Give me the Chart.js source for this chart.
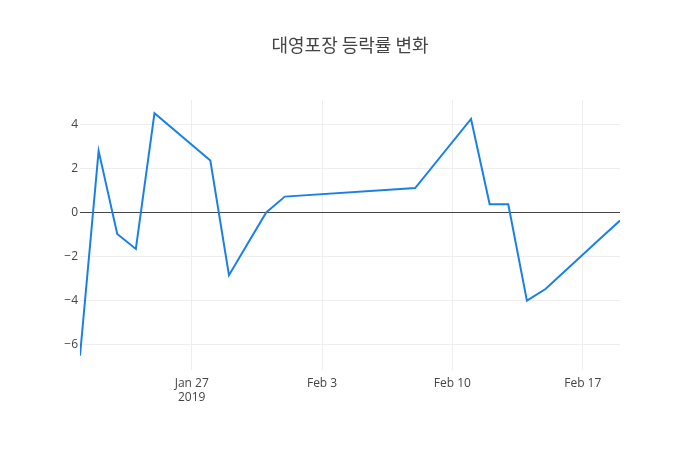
<!DOCTYPE html>
<html>
<head>
<meta charset="utf-8">
<script src="https://cdn.jsdelivr.net/npm/chart.js@4"></script>
<style>
  html, body { margin: 0; padding: 0; background: #fff; }
  #wrap { width: 700px; height: 450px; }
</style>
</head>
<body>
<div id="wrap"><canvas id="c" width="700" height="450"></canvas></div>
<script>
// ---- data ----
const titleText = "대영포장 등락률 변화";
const dates = [
  "2019-01-21","2019-01-22","2019-01-23","2019-01-24","2019-01-25",
  "2019-01-28","2019-01-29","2019-01-30","2019-01-31","2019-02-01",
  "2019-02-07","2019-02-08",
  "2019-02-11","2019-02-12","2019-02-13","2019-02-14","2019-02-15",
  "2019-02-18","2019-02-19"
];
const changes = [
  -6.52, 2.79, -0.99, -1.67, 4.50,
  2.35, -2.86, -1.43, -0.01, 0.71,
  1.04, 1.10,
  4.24, 0.36, 0.36, -4.02, -3.49,
  -1.15, -0.38
];
const xTickDates = ["2019-01-27","2019-02-03","2019-02-10","2019-02-17"];
const xTickLabels = [["Jan 27","2019"],"Feb 3","Feb 10","Feb 17"];
const yTicks = [-6,-4,-2,0,2,4];

// ---- helpers ----
const DAY = 86400000;
const origin = Date.UTC(2019,0,21);
const toDay = s => (Date.parse(s + "T00:00:00Z") - origin) / DAY;
const points = dates.map((d,i) => ({x: toDay(d), y: changes[i]}));
const xTickVals = xTickDates.map(toDay);

const fontFam = "'Open Sans', 'Noto Sans', sans-serif";

new Chart(document.getElementById('c'), {
  type: 'line',
  data: {
    datasets: [{
      data: points,
      borderColor: '#1a80e6',
      borderWidth: 2,
      pointRadius: 0,
      tension: 0,
      fill: false
    }]
  },
  options: {
    responsive: false,
    animation: false,
    layout: { padding: 0 },
    plugins: {
      legend: { display: false },
      tooltip: { enabled: false },
      title: {
        display: true,
        text: titleText,
        color: '#444',
        font: { family: "'Noto Sans CJK KR', sans-serif", size: 18, weight: 'normal', lineHeight: 1.2 },
        padding: { top: 34.4, bottom: 44 }
      }
    },
    scales: {
      x: {
        type: 'linear',
        min: toDay(dates[0]),
        max: toDay(dates[dates.length-1]),
        afterBuildTicks: s => { s.ticks = xTickVals.map(v => ({value: v})); },
        afterFit: s => { s.height = 80; },
        ticks: {
          color: '#444',
          font: { family: fontFam, size: 12 },
          padding: 6,
          maxRotation: 0,
          autoSkip: false,
          callback: (v) => { const i = xTickVals.indexOf(v); return i >= 0 ? xTickLabels[i] : ''; }
        },
        grid: { color: '#eee', lineWidth: 1, drawTicks: false },
        border: { display: false }
      },
      y: {
        min: -7.17,
        max: 5.1,
        afterBuildTicks: s => { s.ticks = yTicks.map(v => ({value: v})); },
        afterFit: s => { s.width = 80; },
        ticks: {
          color: '#444',
          font: { family: fontFam, size: 12 },
          padding: 2,
          callback: v => (v < 0 ? '\u2212' + Math.abs(v) : String(v))
        },
        grid: {
          color: ctx => (ctx.tick && ctx.tick.value === 0 ? '#444' : '#eee'),
          lineWidth: 1,
          drawTicks: false,
          z: 0
        },
        border: { display: false }
      },
      yRight: {
        position: 'right',
        display: true,
        min: -7.17,
        max: 5.1,
        afterFit: s => { s.width = 80; },
        ticks: { display: false },
        grid: { display: false, drawTicks: false },
        border: { display: false }
      }
    }
  }
});
</script>
</body>
</html>
